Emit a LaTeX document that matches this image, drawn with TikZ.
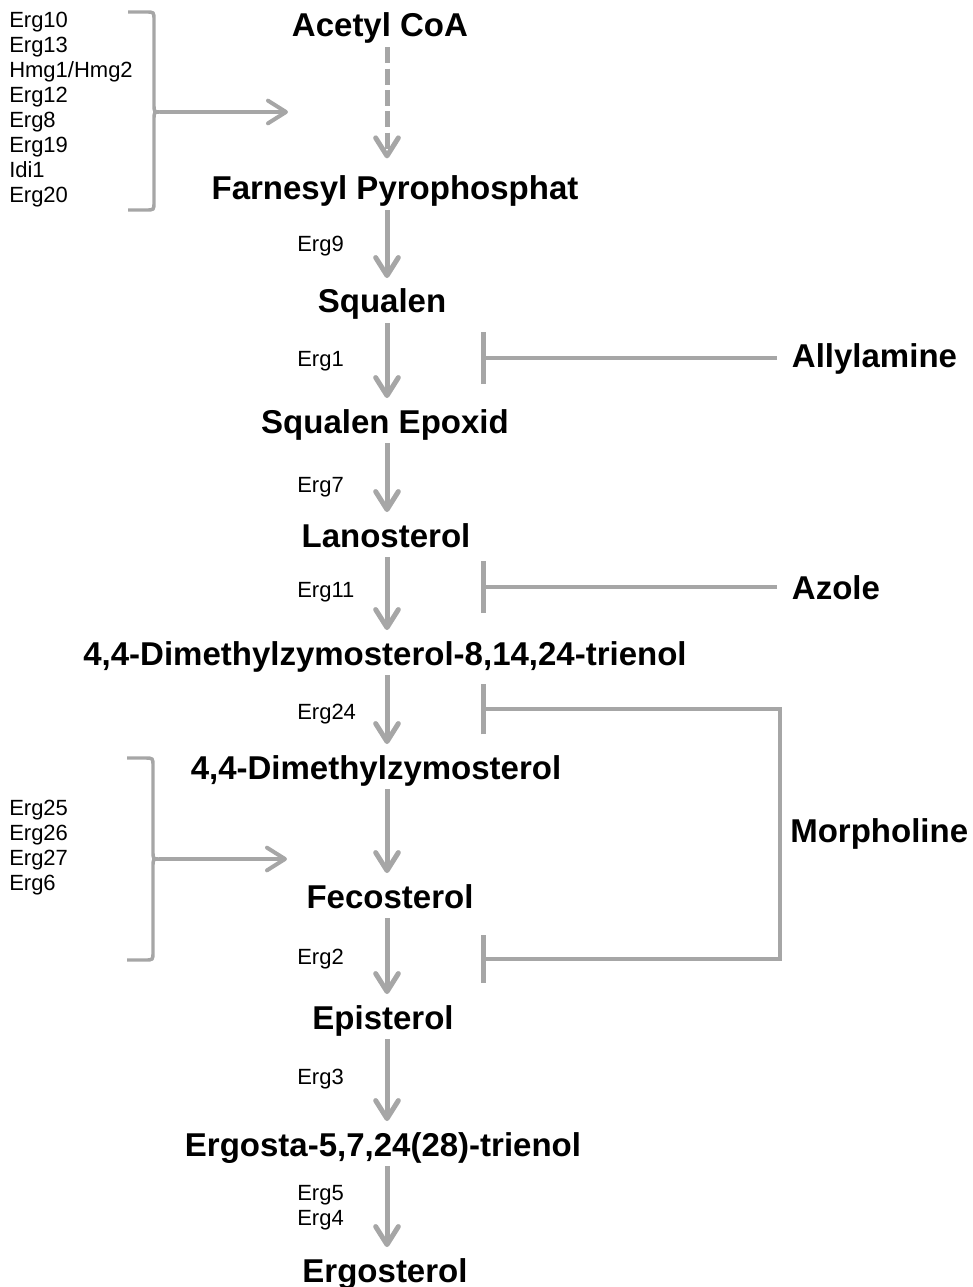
\documentclass[tikz,border=0pt]{standalone}
\usepackage{fontspec}
\setmainfont{Liberation Sans}
\usetikzlibrary{arrows.meta, calc}

\definecolor{pathgray}{RGB}{166,166,166}

\begin{document}
\begin{tikzpicture}[
    x=0.75pt, y=-0.75pt,
    met/.style={font=\fontsize{24.75}{30}\selectfont\bfseries, anchor=base,
        inner xsep=0pt, inner ysep=2pt, text height=24pt, text depth=5.5pt},
    enz/.style={font=\fontsize{16.5}{19}\selectfont, anchor=base west, inner sep=0pt},
    drug/.style={font=\fontsize{24.75}{30}\selectfont\bfseries, anchor=base west,
        inner xsep=11pt, inner ysep=0pt},
    flow/.style={pathgray, line width=3.75pt,
        -{Straight Barb[length=13.5pt,width=17pt,round]}},
    inhib/.style={pathgray, line width=3.5pt, line join=miter},
    brak/.style={pathgray, line width=2.6pt}
    ]

    % Determines the boundries
    \useasboundingbox (0,0) rectangle (973,1287);

    \def\enzX{297}
    \def\geneX{9}
    \def\geneGap{25}

    \coordinate (axis) at (387,0);

    % Metabolites of the pathway
    \foreach \n/\x/\y/\txt in {
        acetyl/380/37/{Acetyl CoA},
        farnesyl/395/200/{Farnesyl Pyrophosphat},
        squalen/382/313/{Squalen},
        epoxid/385/433/{Squalen Epoxid},
        lanosterol/386/547/{Lanosterol},
        trienol/385/665/{4,4-Dimethylzymosterol-8,14,24-trienol},
        dimethyl/376/779/{4,4-Dimethylzymosterol},
        fecosterol/390/908/{Fecosterol},
        episterol/383/1029/{Episterol},
        ergosta/383/1156/{Ergosta-5,7,24(28)-trienol},
        ergosterol/385/1282/{Ergosterol}}{
        \node[met] (\n) at (\x,\y) {\txt};
    }

    % Steps with their enzymes
    \draw[flow, dash pattern=on 12pt off 4pt, shorten >=5pt]
        (acetyl.south -| axis) -- (farnesyl.north -| axis);

    \foreach \a/\b/\e/\y in {
        farnesyl/squalen/Erg9/252,
        squalen/epoxid/Erg1/366,
        epoxid/lanosterol/Erg7/492,
        lanosterol/trienol/Erg11/597,
        trienol/dimethyl/Erg24/719,
        fecosterol/episterol/Erg2/964,
        episterol/ergosta/Erg3/1084}{
        \draw[flow] (\a.south -| axis) -- (\b.north -| axis);
        \node[enz] (e\e) at (\enzX,\y) {\e};
    }

    \draw[flow] (dimethyl.south -| axis) -- (fecosterol.north -| axis);
    \draw[flow] (ergosta.south -| axis) -- (ergosterol.north -| axis);
    \node[enz] (eErg5) at (\enzX,1200) {Erg5};
    \node[enz] (eErg4) at (\enzX,1225) {Erg4};

    % Gene lists with brackets
    \foreach \g [count=\i from 0] in {Erg10,Erg13,{Hmg1/Hmg2},Erg12,Erg8,Erg19,Idi1,Erg20}{
        \node[enz] (gA\i) at (\geneX,27.5+\geneGap*\i) {\g};
    }
    \foreach \g [count=\i from 0] in {Erg25,Erg26,Erg27,Erg6}{
        \node[enz] (gB\i) at (\geneX,815+\geneGap*\i) {\g};
    }

    \coordinate (bAtip) at (160,112);
    \coordinate (bAend) at (288,112);
    \draw[brak] (128,12) -- (146,12) .. controls (154,12) .. (154,20) -- (154,104)
        .. controls (154,112) .. (bAtip) .. controls (154,112) .. (154,120)
        -- (154,202) .. controls (154,210) .. (146,210) -- (128,210);
    \draw[flow, line width=3pt] (bAtip) -- (bAend);

    \coordinate (bBtip) at (159,859);
    \coordinate (bBend) at (287,859);
    \draw[brak] (127,758) -- (145,758) .. controls (153,758) .. (153,766) -- (153,851)
        .. controls (153,859) .. (bBtip) .. controls (153,859) .. (153,867)
        -- (153,952) .. controls (153,960) .. (145,960) -- (127,960);
    \draw[flow, line width=3pt] (bBtip) -- (bBend);

    % Inhibitors
    \node[drug] (ally) at (777,367) {Allylamine};
    \node[drug] (azole) at (777,599) {Azole};
    \node[drug, inner xsep=7.5pt] (morph) at (780,842) {Morpholine};

    \coordinate (tAlly) at (481,358);
    \coordinate (tAzole) at (481,587);
    \coordinate (tMorA) at (481,709);
    \coordinate (tMorB) at (481,959);

    \draw[inhib, -{Bar[width=39pt]}] (tAlly -| ally.west) -- (tAlly);
    \draw[inhib, -{Bar[width=39pt]}] (tAzole -| azole.west) -- (tAzole);
    \draw[inhib, {Bar[width=38pt]}-{Bar[width=36pt]}]
        (tMorA) -- (tMorA -| morph.west) -- (tMorB -| morph.west) -- (tMorB);

\end{tikzpicture}
\end{document}
